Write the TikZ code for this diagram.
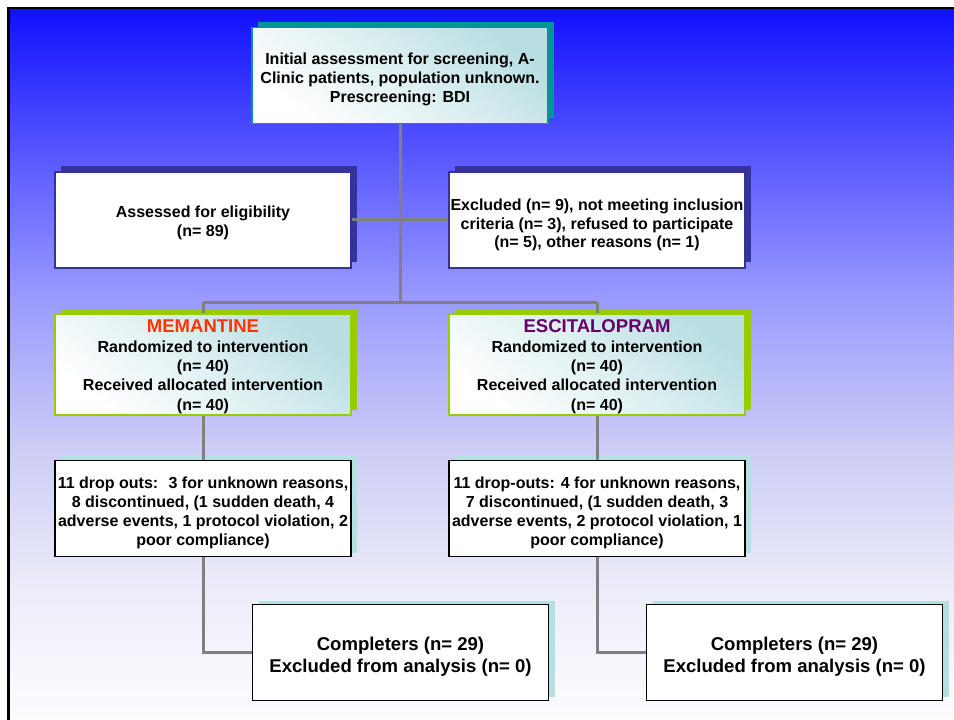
\documentclass[tikz,border=0pt]{standalone}
\usepackage{fontspec}
\setmainfont{Liberation Sans}
\usetikzlibrary{shadows}

\definecolor{bgzero}{RGB}{252,252,255}
\definecolor{bgone}{RGB}{238,238,250}
\definecolor{bgtwo}{RGB}{205,205,246}
\definecolor{bgthree}{RGB}{155,155,255}
\definecolor{bgfour}{RGB}{90,90,255}
\definecolor{bgfive}{RGB}{16,16,255}
\definecolor{tealdark}{RGB}{0,150,150}
\definecolor{boxteal}{RGB}{184,222,226}
\definecolor{navyshadow}{RGB}{51,51,153}
\definecolor{limegreen}{RGB}{153,204,0}
\definecolor{paleteal}{RGB}{180,224,226}
\definecolor{linkgray}{RGB}{128,128,128}
\definecolor{memred}{RGB}{255,51,0}
\definecolor{escpurple}{RGB}{102,0,102}

\pgfdeclareverticalshading{slidebg}{100bp}{color(0bp)=(bgzero); color(25bp)=(bgzero); color(33.4bp)=(bgone); color(44bp)=(bgtwo); color(54.5bp)=(bgthree); color(64.3bp)=(bgfour); color(75bp)=(bgfive); color(100bp)=(bgfive)}

\newcommand{\lift}[1]{\rule{0pt}{#1}}

\tikzset{every picture/.style={line width=0.75pt}}
\tikzset{
  box/.style={draw, line width=1.1pt, fill=white, minimum width=222pt, minimum height=72pt,
    inner sep=1pt, align=center, font=\bfseries\fontsize{12}{14.2}\selectfont},
  tealbox/.style={box, draw=tealdark, top color=boxteal, bottom color=white,
    middle color=white!55!boxteal, shading angle=-38,
    drop shadow={shadow xshift=4.5pt, shadow yshift=3.75pt, fill=tealdark, opacity=1}},
  navybox/.style={box, draw=navyshadow,
    drop shadow={shadow xshift=4.5pt, shadow yshift=4.5pt, fill=navyshadow, opacity=1}},
  armbox/.style={box, draw=limegreen, top color=boxteal, bottom color=white,
    middle color=white!55!boxteal, shading angle=-38,
    font=\bfseries\fontsize{12}{14.5}\selectfont,
    drop shadow={shadow xshift=4.5pt, shadow yshift=3.75pt, fill=limegreen, opacity=1}},
  plainbox/.style={box, draw=black,
    drop shadow={shadow xshift=4.5pt, shadow yshift=3pt, fill=paleteal, opacity=1}},
  donebox/.style={plainbox, font=\bfseries\fontsize{13.9}{16.8}\selectfont},
  link/.style={draw=linkgray, line width=2.25pt},
}

\begin{document}
\begin{tikzpicture}[x=0.75pt,y=0.75pt,yscale=-1,xscale=1]
\useasboundingbox (0,0) rectangle (954,720);

%Background: slide
\shade[shading=slidebg] (8,8) rectangle (954,720);
\draw[line width=2pt, black] (8.7,720) -- (8.7,8) -- (954,8);

% Boxes
\node[tealbox] (screen) at (400,75.5) {\lift{14pt}Initial assessment for screening, A-\\Clinic patients, population unknown.\\Prescreening: BDI};
\node[navybox] (assess) at (203,220) {\lift{13pt}Assessed for eligibility\\(n= 89)};
\node[navybox] (excl) at (597,220) {\lift{16pt}Excluded (n= 9), not meeting inclusion\\criteria (n= 3), refused to participate\\(n= 5), other reasons (n= 1)};
\node[armbox] (mem) at (203,364.5) {\lift{13pt}{\fontsize{13.9}{15}\selectfont\color{memred}MEMANTINE}\\Randomized to intervention\\(n= 40)\\Received allocated intervention\\(n= 40)};
\node[armbox] (esc) at (597,364.5) {\lift{13pt}{\fontsize{13.9}{15}\selectfont\color{escpurple}ESCITALOPRAM}\\Randomized to intervention\\(n= 40)\\Received allocated intervention\\(n= 40)};
\node[plainbox] (dropL) at (203,508.5) {\lift{15.5pt}11 drop outs: \ 3 for unknown reasons,\\8 discontinued, (1 sudden death, 4\\adverse events, 1 protocol violation, 2\\poor compliance)};
\node[plainbox] (dropR) at (597,508.5) {\lift{15.5pt}11 drop-outs: 4 for unknown reasons,\\7 discontinued, (1 sudden death, 3\\adverse events, 2 protocol violation, 1\\poor compliance)};
\node[donebox] (compL) at (400.5,652.5) {\lift{16.5pt}Completers (n= 29)\\Excluded from analysis (n= 0)};
\node[donebox] (compR) at (794.5,652.5) {\lift{16.5pt}Completers (n= 29)\\Excluded from analysis (n= 0)};

% Connectors
\coordinate (split) at (400,302.5);
\draw[link] (screen.south) -- (split);
\draw[link] (assess.east) -- (assess.east -| excl.west);
\draw[link] (split -| mem) -- (split -| esc);
\draw[link] (split -| mem) -- (mem.north);
\draw[link] (split -| esc) -- (esc.north);
\draw[link] (mem.south) -- (dropL.north);
\draw[link] (esc.south) -- (dropR.north);
\draw[link] (dropL.south) |- (compL.west);
\draw[link] (dropR.south) |- (compR.west);

\end{tikzpicture}
\end{document}
